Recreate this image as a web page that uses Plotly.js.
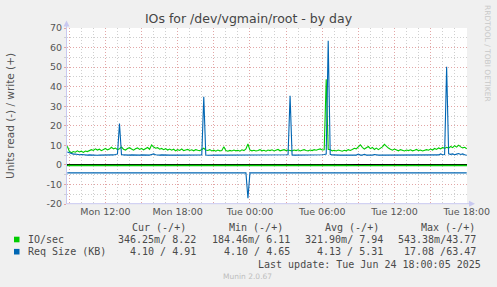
<!DOCTYPE html>
<html>
<head>
<meta charset="utf-8">
<script src="https://cdn.plot.ly/plotly-3.0.1.min.js"></script>
<style>
html,body{margin:0;padding:0;background:#f0f0f0;}
#chart{width:497px;height:287px;}
</style>
</head>
<body>
<div id="chart"></div>
<script>
// ---------- data ----------
// write series, one sample every 10 minutes from Mon 08:50 to Tue 18:00
var writeStart = '2025-06-23T08:50:00Z';
var writeStepMin = 10;
var ioWrite = [
  9.5, 7.0, 6.2, 6.8, 6.5, 7.2, 6.6, 7.0, 6.4, 7.1,
  6.8, 7.5, 7.8, 7.4, 8.2, 7.6, 8.0, 7.3, 7.9, 8.4,
  7.7, 8.1, 9.0, 8.2, 8.6, 7.8, 8.3, 9.1, 8.0, 7.6,
  8.4, 8.8, 8.1, 7.5, 8.2, 8.7, 7.9, 8.4, 7.7, 8.3,
  8.9, 8.0, 10.2, 9.1, 8.5, 8.8, 8.0, 8.4, 7.8, 8.3,
  7.6, 8.1, 7.5, 8.0, 7.2, 7.8, 7.4, 8.1, 7.3, 7.6,
  7.9, 7.4, 7.7, 7.2, 7.8, 7.5, 7.3, 7.9, 8.5, 7.6,
  7.4, 7.8, 7.1, 7.5, 7.0, 7.6, 7.2, 7.4, 9.3, 7.3,
  7.0, 7.4, 7.1, 7.6, 7.2, 7.5, 7.0, 7.7, 7.3, 8.2,
  10.7, 7.6, 7.2, 7.5, 7.1, 7.4, 7.8, 7.2, 7.5, 7.0,
  7.6, 7.3, 7.7, 7.1, 7.4, 7.9, 7.2, 7.5, 7.8, 7.3,
  7.6, 7.4, 7.2, 7.6, 7.3, 7.7, 7.1, 7.5, 7.8, 7.4,
  7.2, 7.6, 7.3, 7.8, 7.5, 7.9, 8.2, 7.6, 7.7, 43.77,
  8.0, 7.7, 7.2, 7.5, 7.1, 7.6, 7.3, 7.0, 7.5, 7.2,
  7.8, 7.4, 7.9, 8.5, 8.2, 9.1, 10.3, 9.0, 8.1, 8.8,
  9.4, 8.3, 8.9, 7.9, 8.6, 7.8, 8.4, 9.2, 10.5, 9.3,
  8.6, 8.0, 7.5, 8.1, 7.6, 7.2, 7.8, 7.4, 7.1, 7.6,
  7.3, 7.7, 7.2, 7.5, 7.9, 7.3, 7.6, 7.1, 7.4, 7.8,
  7.5, 8.1, 7.6, 8.4, 7.9, 8.7, 8.2, 8.9, 8.4, 9.0,
  8.6, 9.4, 8.8, 9.8, 9.1, 10.1, 9.2, 8.7, 9.0, 8.22
];
var sizeWrite = [
  6.6, 6.1, 5.8, 5.5, 5.6, 5.3, 5.2, 5.3, 5.1, 5.2,
  5.0, 5.1, 5.0, 5.1, 5.0, 4.9, 5.0, 5.0, 5.1, 5.0,
  4.9, 5.0, 5.0, 5.1, 5.3, 5.6, 21.2, 5.3, 5.1, 5.0,
  5.0, 5.0, 5.1, 5.0, 4.9, 5.0, 5.0, 5.1, 5.0, 5.0,
  4.9, 5.0, 5.3, 5.6, 5.2, 5.0, 5.0, 5.1, 5.0, 4.9,
  5.0, 5.0, 5.0, 4.9, 5.0, 5.0, 5.0, 5.0, 4.9, 5.0,
  5.0, 5.0, 4.9, 5.0, 5.0, 5.0, 5.0, 5.1, 34.8, 5.0,
  4.9, 5.0, 5.0, 4.9, 5.0, 5.0, 5.0, 5.0, 4.9, 5.0,
  5.0, 5.0, 5.0, 4.9, 5.0, 5.0, 5.0, 5.0, 5.0, 4.9,
  5.0, 5.0, 5.0, 5.0, 4.9, 5.0, 5.0, 5.0, 5.0, 5.0,
  4.9, 5.0, 5.0, 5.0, 5.0, 4.9, 5.0, 5.0, 5.0, 5.0,
  5.2, 35.3, 5.1, 5.0, 5.0, 4.9, 5.0, 5.0, 5.0, 5.0,
  5.0, 4.9, 5.0, 5.0, 5.0, 5.0, 5.1, 5.2, 5.3, 5.5,
  63.47, 5.4, 5.1, 5.0, 5.0, 4.9, 5.0, 5.0, 5.0, 5.0,
  4.9, 5.0, 5.0, 5.0, 5.0, 5.5, 5.0, 5.0, 5.4, 5.0,
  5.0, 4.9, 5.0, 5.3, 5.0, 5.0, 5.0, 5.0, 4.9, 5.0,
  5.0, 5.0, 5.0, 5.0, 4.9, 5.0, 5.0, 5.0, 5.0, 4.9,
  5.0, 5.0, 5.0, 5.0, 5.0, 4.9, 5.0, 5.0, 5.0, 5.0,
  5.0, 5.0, 5.0, 5.0, 5.0, 5.1, 5.6, 5.2, 5.3, 50.2,
  5.7, 5.4, 5.6, 5.2, 5.5, 5.8, 5.3, 5.6, 5.2, 4.91
];
// read IO/sec, one sample per hour (plotted negative)
var ioReadStart = '2025-06-23T08:50:00Z';
var ioReadStepMin = 60;
var ioRead = [
  0.32, 0.30, 0.33, 0.35, 0.31, 0.29, 0.34, 0.32, 0.30, 0.33,
  0.54, 0.31, 0.28, 0.32, 0.35, 0.30, 0.33, 0.31, 0.18, 0.32,
  0.34, 0.30, 0.33, 0.31, 0.36, 0.32, 0.29, 0.33, 0.31, 0.34,
  0.30, 0.32, 0.35, 0.33, 0.346
];
// read request size (plotted negative)
var sizeReadTimes = ['2025-06-23 08:50', '2025-06-23 23:40', '2025-06-23 23:50', '2025-06-24 00:00', '2025-06-24 18:00'];
var sizeRead = [4.10, 4.10, 17.08, 4.10, 4.10];

// axis ticks
var xTickVals = ['2025-06-23 09:00','2025-06-23 12:00','2025-06-23 15:00','2025-06-23 18:00',
  '2025-06-23 21:00','2025-06-24 00:00','2025-06-24 03:00','2025-06-24 06:00',
  '2025-06-24 09:00','2025-06-24 12:00','2025-06-24 15:00','2025-06-24 18:00'];
var xTickText = ['', 'Mon 12:00', '', 'Mon 18:00', '', 'Tue 00:00', '', 'Tue 06:00', '', 'Tue 12:00', '', 'Tue 18:00'];
var yTickVals = [-20, -10, 0, 10, 20, 30, 40, 50, 60, 70];
var yTickText = ['-20', '-10', '0', '10', '20', '30', '40', '50', '60', '70'];

// legend table
var seriesNames = ['IO/sec', 'Req Size (KB)'];
var seriesColors = ['#00cc00', '#0066b3'];
var colHeads = ['Cur (-/+)', 'Min (-/+)', 'Avg (-/+)', 'Max (-/+)'];
var curVals = ['346.25m/ 8.22', '4.10 / 4.91'];
var minVals = ['184.46m/ 6.11', '4.10 / 4.65'];
var avgVals = ['321.90m/ 7.94', '4.13 / 5.31'];
var maxVals = ['543.38m/43.77', '17.08 /63.47'];
var lastUpdate = 'Last update: Tue Jun 24 18:00:05 2025';

// ---------- helpers ----------
function makeTimes(startIso, stepMin, n) {
  var t0 = Date.parse(startIso), out = [];
  for (var k = 0; k < n; k++) {
    out.push(new Date(t0 + k * stepMin * 60000).toISOString().slice(0, 19).replace('T', ' '));
  }
  return out;
}
function neg(a) { return a.map(function (v) { return -v; }); }

var writeTimes = makeTimes(writeStart, writeStepMin, ioWrite.length);
var readTimes = makeTimes(ioReadStart, ioReadStepMin, ioRead.length);

// plot box in pixels
var L = 67, R = 467, T = 28, B = 204;
function px(x) { return (x - L) / (R - L); }
function py(y) { return (B - y) / (B - T); }

var traces = [
  {x: writeTimes, y: ioWrite, type: 'scatter', mode: 'lines', line: {color: seriesColors[0], width: 1.1}, hoverinfo: 'skip'},
  {x: readTimes, y: neg(ioRead), type: 'scatter', mode: 'lines', line: {color: seriesColors[0], width: 1.4}, hoverinfo: 'skip'},
  {x: writeTimes, y: sizeWrite, type: 'scatter', mode: 'lines', line: {color: seriesColors[1], width: 1.1}, hoverinfo: 'skip'},
  {x: sizeReadTimes, y: neg(sizeRead), type: 'scatter', mode: 'lines', line: {color: seriesColors[1], width: 1.1}, hoverinfo: 'skip'}
];

var tickFont = {family: 'DejaVu Sans', size: 9.5, color: '#555555'};
var monoFont = {family: 'DejaVu Sans Mono', size: 10, color: '#4a4a4a'};
var axisCol = '#c8c8f0';
var majorGrid = '#e2a6a6';
var minorGrid = '#cfcfcf';

var ann = [];
function addText(text, x, y, anchor, font, angle) {
  ann.push({text: text, xref: 'paper', yref: 'paper', x: px(x), y: py(y), xanchor: anchor,
    yanchor: 'middle', showarrow: false, font: font, textangle: angle || 0, borderpad: 0});
}
addText('Units read (-) / write (+)', 10, 116, 'center', {family: 'DejaVu Sans', size: 10.5, color: '#555555'}, -90);
addText('RRDTOOL / TOBI OETIKER', 488, 53, 'center', {family: 'DejaVu Sans', size: 7.5, color: '#c8c8c8'}, 90);
var headRight = [187, 284, 380, 476];
var valRight = [197, 291, 384, 477];
colHeads.forEach(function (h, k) { addText(h, headRight[k], 228, 'right', monoFont); });
var rowY = [239.5, 251.7];
var shapes = [];
seriesNames.forEach(function (name, r) {
  addText(name, 26.5, rowY[r], 'left', monoFont);
  [curVals, minVals, avgVals, maxVals].forEach(function (col, k) {
    addText(col[r], valRight[k], rowY[r], 'right', monoFont);
  });
  shapes.push({type: 'rect', xref: 'paper', yref: 'paper', x0: px(14), x1: px(19.5),
    y0: py(rowY[r] - 2.8), y1: py(rowY[r] + 2.8), fillcolor: seriesColors[r], line: {width: 0}});
});
addText(lastUpdate, 482, 264, 'right', monoFont);
addText('Munin 2.0.67', 247.5, 276, 'center', {family: 'DejaVu Sans', size: 7.5, color: '#bdbdbd'});

// axis lines with arrows
shapes.push({type: 'line', xref: 'paper', yref: 'paper', x0: px(66.5), x1: px(66.5), y0: py(204), y1: py(24), line: {color: axisCol, width: 1}});
shapes.push({type: 'path', xref: 'paper', yref: 'paper',
  path: 'M ' + px(63.5) + ',' + py(26.5) + ' L ' + px(69.5) + ',' + py(26.5) + ' L ' + px(66.5) + ',' + py(20.5) + ' Z',
  fillcolor: axisCol, line: {width: 0}});
shapes.push({type: 'line', xref: 'paper', yref: 'paper', x0: px(66.5), x1: px(471), y0: py(203.7), y1: py(203.7), line: {color: axisCol, width: 1}});
shapes.push({type: 'path', xref: 'paper', yref: 'paper',
  path: 'M ' + px(469) + ',' + py(200.7) + ' L ' + px(469) + ',' + py(206.7) + ' L ' + px(475) + ',' + py(203.7) + ' Z',
  fillcolor: axisCol, line: {width: 0}});

var layout = {
  width: 497, height: 287,
  margin: {l: L, r: 497 - R, t: T, b: 287 - B, pad: 0},
  paper_bgcolor: '#f0f0f0', plot_bgcolor: '#ffffff',
  showlegend: false,
  title: {text: 'IOs for /dev/vgmain/root - by day', font: {family: 'DejaVu Sans', size: 12.5, color: '#444444'},
    x: 0.5, xref: 'container', xanchor: 'center', y: 1 - 19 / 287, yref: 'container', yanchor: 'middle'},
  xaxis: {
    type: 'date', range: ['2025-06-23 08:48:30', '2025-06-24 18:01:30'],
    tickmode: 'array', tickvals: xTickVals, ticktext: xTickText,
    tickfont: tickFont, ticks: '', showline: false, zeroline: false,
    showgrid: true, gridcolor: majorGrid, griddash: '1px,2px', gridwidth: 1,
    minor: {dtick: 3600000, tick0: '2025-06-23 00:00', showgrid: true, gridcolor: minorGrid, griddash: '1px,2px', gridwidth: 1, ticks: ''},
    fixedrange: true
  },
  yaxis: {
    range: [-20, 70], tickmode: 'array', tickvals: yTickVals, ticktext: yTickText,
    tickfont: tickFont, ticks: 'outside', ticklen: 2, tickcolor: majorGrid,
    showline: false, zeroline: true, zerolinecolor: '#000000', zerolinewidth: 2,
    showgrid: true, gridcolor: majorGrid, griddash: '1px,2px', gridwidth: 1,
    minor: {dtick: 5, tick0: 0, showgrid: true, gridcolor: minorGrid, griddash: '1px,2px', gridwidth: 1, ticks: 'outside', ticklen: 2, tickcolor: minorGrid},
    fixedrange: true
  },
  annotations: ann,
  shapes: shapes
};

Plotly.newPlot('chart', traces, layout, {staticPlot: true, displayModeBar: false});
</script>
</body>
</html>
